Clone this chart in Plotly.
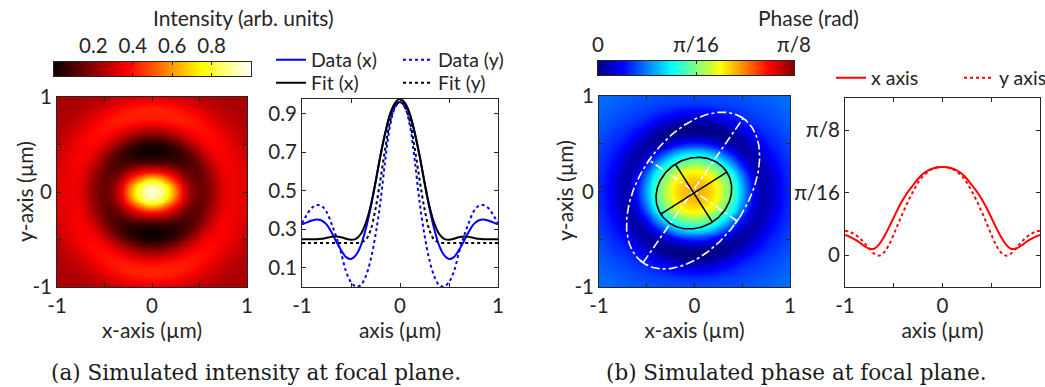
import numpy as np
import plotly.graph_objects as go

W, H = 1045, 387

# radial positions (µm) of the half-profiles; the tail past 1 µm fills the map corners
r_half = [0.00, 0.05, 0.10, 0.15, 0.20, 0.25, 0.30, 0.35, 0.40, 0.45, 0.50,
          0.55, 0.60, 0.65, 0.70, 0.75, 0.80, 0.85, 0.90, 0.95, 1.00,
          1.10, 1.20, 1.30, 1.45]

# intensity cuts through the focal spot (arb. units)
intensity_data_x = [0.960, 0.945, 0.890, 0.800, 0.680, 0.540, 0.410, 0.300, 0.215, 0.165, 0.145,
                    0.155, 0.190, 0.235, 0.285, 0.325, 0.345, 0.350, 0.345, 0.335, 0.325,
                    0.290, 0.260, 0.250, 0.250]
intensity_data_y = [0.960, 0.930, 0.840, 0.660, 0.440, 0.270, 0.140, 0.055, 0.010, 0.002, 0.025,
                    0.080, 0.175, 0.260, 0.330, 0.390, 0.420, 0.425, 0.410, 0.375, 0.330,
                    0.270, 0.240, 0.240, 0.250]
intensity_fit_x = [0.975, 0.955, 0.900, 0.800, 0.680, 0.545, 0.420, 0.330, 0.275, 0.250, 0.245,
                   0.250, 0.258, 0.262, 0.260, 0.255, 0.250, 0.248, 0.248, 0.248, 0.248,
                   0.248, 0.248, 0.248, 0.248]
intensity_fit_y = [0.960, 0.935, 0.860, 0.720, 0.555, 0.405, 0.295, 0.245, 0.232, 0.228, 0.228,
                   0.228, 0.228, 0.228, 0.228, 0.228, 0.228, 0.228, 0.228, 0.228, 0.228,
                   0.228, 0.228, 0.228, 0.228]

# phase cuts, in units of pi/16 rad
phase_x = [1.410, 1.405, 1.385, 1.350, 1.300, 1.220, 1.120, 1.020, 0.900, 0.760, 0.600,
           0.440, 0.290, 0.170, 0.100, 0.100, 0.140, 0.200, 0.250, 0.290, 0.320,
           0.370, 0.410, 0.440, 0.470]
phase_y = [1.410, 1.400, 1.380, 1.330, 1.260, 1.160, 1.020, 0.870, 0.700, 0.520, 0.330,
           0.160, 0.040, -0.010, 0.020, 0.100, 0.190, 0.270, 0.330, 0.370, 0.390,
           0.420, 0.440, 0.460, 0.480]

# ellipses fitted on the phase map: centre x, centre y, semi-major, semi-minor, tilt (deg)
inner_ellipse = [-0.007, -0.017, 0.41, 0.36, 32.5]
outer_ellipse = [-0.015, 0.010, 0.92, 0.56, 55.3]

pos_ticks = [-1, -0.5, 0, 0.5, 1]
pos_tick_text = ["-1", "", "0", "", "1"]
intensity_ticks = [0.1, 0.3, 0.5, 0.7, 0.9]
intensity_cbar_ticks = [0.2, 0.4, 0.6, 0.8]
phase_tick_vals = [0, 1, 2]
phase_tick_text = ["0", "π/16", "π/8"]

HOT = [[0.0, "rgb(11,0,0)"], [0.375, "rgb(255,0,0)"],
       [0.75, "rgb(255,255,0)"], [1.0, "rgb(255,255,255)"]]
JET = [[0.0, "rgb(0,0,128)"], [0.125, "rgb(0,0,255)"], [0.375, "rgb(0,255,255)"],
       [0.625, "rgb(255,255,0)"], [0.875, "rgb(255,0,0)"], [1.0, "rgb(128,0,0)"]]

FONT = "Lato"
INK = "#262626"


def px_x(a, b):
    return [a / W, b / W]


def px_y(top, bottom):
    return [1 - bottom / H, 1 - top / H]


def mirrored(vals):
    half_r = [r for r in r_half if r <= 1.0]
    half_v = vals[:len(half_r)]
    xs = [-r for r in half_r[:0:-1]] + half_r
    ys = half_v[:0:-1] + half_v
    return xs, ys


# 2-D maps: blend the x- and y-cuts according to direction
grid = np.round(np.arange(-1.0, 1.0001, 0.02), 3)
GX, GY = np.meshgrid(grid, grid)
R = np.hypot(GX, GY)
COS2 = np.where(R > 0, GX ** 2 / np.where(R > 0, R ** 2, 1.0), 0.5)


def field(px, py):
    return COS2 * np.interp(R, r_half, px) + (1 - COS2) * np.interp(R, r_half, py)


def ellipse_path(p):
    cx, cy, a, b, ang = p
    t = np.linspace(0, 2 * np.pi, 200)
    th = np.deg2rad(ang)
    ex = cx + a * np.cos(t) * np.cos(th) - b * np.sin(t) * np.sin(th)
    ey = cy + a * np.cos(t) * np.sin(th) + b * np.sin(t) * np.cos(th)
    return ex, ey


def ellipse_axes(p, cap=0.0):
    cx, cy, a, b, ang = p
    th = np.deg2rad(ang)
    u = np.array([np.cos(th), np.sin(th)])
    v = np.array([-np.sin(th), np.cos(th)])
    c = np.array([cx, cy])
    segs = [(c - a * u, c + a * u), (c - b * v, c + b * v)]
    if cap > 0:
        for s in (-1, 1):
            e = c + s * a * u
            segs.append((e - cap * v, e + cap * v))
            e = c + s * b * v
            segs.append((e - cap * u, e + cap * u))
    xs, ys = [], []
    for p0, p1 in segs:
        xs += [p0[0], p1[0], None]
        ys += [p0[1], p1[1], None]
    return xs, ys


fig = go.Figure()

# (a) intensity map
fig.add_trace(go.Heatmap(x=grid, y=grid, z=field(intensity_data_x, intensity_data_y),
                         colorscale=HOT, zmin=0, zmax=1, zsmooth="best", showscale=False,
                         xaxis="x", yaxis="y", hoverinfo="skip"))

# (a) intensity cuts, one legend box per entry
for vals, name, color, dash, leg in [
        (intensity_data_x, "Data (x)", "#0000ff", "solid", "legend"),
        (intensity_data_y, "Data (y)", "#0000ff", "dot", "legend2"),
        (intensity_fit_x, "Fit (x)", "#000000", "solid", "legend3"),
        (intensity_fit_y, "Fit (y)", "#000000", "dot", "legend4")]:
    xs, ys = mirrored(vals)
    fig.add_trace(go.Scatter(x=xs, y=ys, mode="lines", name=name, legend=leg,
                             line=dict(color=color, dash=dash, width=2, shape="spline"),
                             xaxis="x2", yaxis="y2"))

# (b) phase map
fig.add_trace(go.Heatmap(x=grid, y=grid, z=field(phase_x, phase_y),
                         colorscale=JET, zmin=0, zmax=2, zsmooth="best", showscale=False,
                         xaxis="x3", yaxis="y3", hoverinfo="skip"))
ox, oy = ellipse_path(outer_ellipse)
fig.add_trace(go.Scatter(x=ox, y=oy, mode="lines", showlegend=False, xaxis="x3", yaxis="y3",
                         line=dict(color="white", width=1.6, dash="dashdot")))
ax_x, ax_y = ellipse_axes(outer_ellipse, cap=0.04)
fig.add_trace(go.Scatter(x=ax_x, y=ax_y, mode="lines", showlegend=False, xaxis="x3", yaxis="y3",
                         line=dict(color="white", width=1.6, dash="dashdot")))
ix, iy = ellipse_path(inner_ellipse)
fig.add_trace(go.Scatter(x=ix, y=iy, mode="lines", showlegend=False, xaxis="x3", yaxis="y3",
                         line=dict(color="black", width=1.6)))
bx, by = ellipse_axes(inner_ellipse)
fig.add_trace(go.Scatter(x=bx, y=by, mode="lines", showlegend=False, xaxis="x3", yaxis="y3",
                         line=dict(color="black", width=1.6)))

# (b) phase cuts
for vals, name, dash, leg in [(phase_x, "x axis", "solid", "legend5"),
                              (phase_y, "y axis", "dot", "legend6")]:
    xs, ys = mirrored(vals)
    fig.add_trace(go.Scatter(x=xs, y=ys, mode="lines", name=name, legend=leg,
                             line=dict(color="#ff0000", dash=dash, width=2, shape="spline"),
                             xaxis="x4", yaxis="y4"))

# colour bars
ramp = np.linspace(0, 1, 256)
fig.add_trace(go.Heatmap(x=ramp, y=[0], z=[ramp], colorscale=HOT, zmin=0, zmax=1,
                         showscale=False, xaxis="x5", yaxis="y5", hoverinfo="skip"))
fig.add_trace(go.Heatmap(x=ramp * 2, y=[0], z=[ramp * 2], colorscale=JET, zmin=0, zmax=2,
                         showscale=False, xaxis="x6", yaxis="y6", hoverinfo="skip"))

tickfont = dict(family=FONT, size=20.5, color=INK)
titlefont = dict(family=FONT, size=21, color=INK)
legfont = dict(family=FONT, size=19.5, color=INK)
common = dict(showline=True, linecolor=INK, linewidth=1, mirror="allticks", ticks="inside",
              ticklen=4, tickcolor=INK, showgrid=False, zeroline=False, tickfont=tickfont)


def pos_axis(domain, title=None, standoff=6):
    d = dict(common, domain=domain, range=[-1, 1], tickvals=pos_ticks, ticktext=pos_tick_text)
    if title:
        d["title"] = dict(text=title, font=titlefont, standoff=standoff)
    return d


def legend_at(x_px, y_px):
    return dict(x=x_px / W, y=1 - y_px / H, xanchor="left", yanchor="middle",
                bgcolor="rgba(0,0,0,0)", font=legfont)


def label(text, x_px, y_px, font, angle=0):
    return dict(text=text, x=x_px / W, y=1 - y_px / H, xref="paper", yref="paper",
                xanchor="center", yanchor="middle", showarrow=False, textangle=angle, font=font)


capfont = dict(family="DejaVu Serif", size=21.5, color="#1a1a1a")

fig.update_layout(
    width=W, height=H, margin=dict(l=0, r=0, t=0, b=0, autoexpand=False),
    paper_bgcolor="white", plot_bgcolor="white",
    font=dict(family=FONT, color=INK),
    xaxis=pos_axis(px_x(57, 247), "x-axis (µm)"),
    yaxis=dict(pos_axis(px_y(97, 287)), anchor="x"),
    xaxis2=dict(pos_axis(px_x(302, 498), "axis (µm)"), anchor="y2"),
    yaxis2=dict(common, domain=px_y(99, 287), range=[0, 0.975], tickvals=intensity_ticks,
                anchor="x2"),
    xaxis3=dict(pos_axis(px_x(599, 790), "x-axis (µm)"), anchor="y3"),
    yaxis3=dict(pos_axis(px_y(96, 287)), anchor="x3"),
    xaxis4=dict(pos_axis(px_x(845, 1040), "axis (µm)"), anchor="y4"),
    yaxis4=dict(common, domain=px_y(98, 287), range=[-0.512, 2.512], tickvals=phase_tick_vals,
                ticktext=phase_tick_text, anchor="x4"),
    xaxis5=dict(common, domain=px_x(54, 251), range=[0, 1], side="top", tickvals=intensity_cbar_ticks,
                ticklen=3, anchor="y5"),
    yaxis5=dict(common, domain=px_y(62, 76), range=[-0.5, 0.5], showticklabels=False, ticks="",
                anchor="x5"),
    xaxis6=dict(common, domain=px_x(598, 794), range=[0, 2], side="top", tickvals=phase_tick_vals,
                ticktext=phase_tick_text, ticklen=3, anchor="y6"),
    yaxis6=dict(common, domain=px_y(61, 75), range=[-0.5, 0.5], showticklabels=False, ticks="",
                anchor="x6"),
    legend=legend_at(271, 60),
    legend2=legend_at(398, 60),
    legend3=legend_at(271, 83),
    legend4=legend_at(398, 83),
    legend5=legend_at(831, 78),
    legend6=legend_at(959, 78),
    annotations=[
        label("Intensity (arb. units)", 243, 18, titlefont),
        label("Phase (rad)", 808, 18, titlefont),
        label("y-axis (µm)", 24, 192, titlefont, -90),
        label("y-axis (µm)", 564, 191, titlefont, -90),
        label("(a) Simulated intensity at focal plane.", 256, 372, capfont),
        label("(b) Simulated phase at focal plane.", 796, 372, capfont),
    ],
)

fig.write_html("out.html")
